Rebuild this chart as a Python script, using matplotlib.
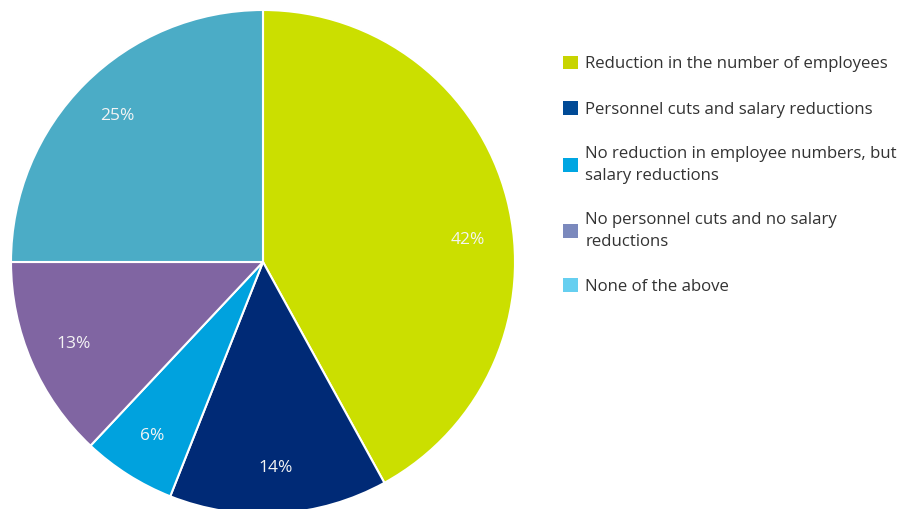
import matplotlib.pyplot as plt
from matplotlib.patches import Patch

plt.rcParams['font.family'] = ['Open Sans', 'DejaVu Sans']

# Survey answers, share in percent
categories = [
    'Reduction in the number of employees',
    'Personnel cuts and salary reductions',
    'No reduction in employee numbers, but\nsalary reductions',
    'No personnel cuts and no salary\nreductions',
    'None of the above',
]
shares = [42, 14, 6, 13, 25]
pie_colors = ['#cbdf00', '#002a76', '#00a2de', '#8065a2', '#4bacc6']
legend_colors = ['#c8d400', '#004a96', '#00a6e2', '#7b89bd', '#66cff0']

W, H = 910, 509
fig = plt.figure(figsize=(W / 100, H / 100), dpi=100)
ax = fig.add_axes([0, 0, 1, 1])

cx, cy = 263, H - 262
wedges, texts, autotexts = ax.pie(
    shares, colors=pie_colors, startangle=90, counterclock=False,
    center=(cx, cy), radius=252,
    autopct='%d%%', pctdistance=0.82,
    wedgeprops=dict(edgecolor='white', linewidth=1.5),
    textprops=dict(color='#f4f4f4', fontsize=12.5),
)
# the big slice label sits a little lower than its mid angle
autotexts[0].set_position((cx + 205, cy + 22))

ax.set_xlim(0, W)
ax.set_ylim(0, H)
ax.set_aspect('equal')
ax.axis('off')

handles = [Patch(facecolor=c, edgecolor='none') for c in legend_colors]
leg = fig.legend(handles, categories, loc='upper left', bbox_to_anchor=(0.602, 0.92),
                 frameon=False, fontsize=12.1, handlelength=0.87, handleheight=0.87,
                 handletextpad=0.45, labelspacing=1.7, labelcolor='#333333')
for t in leg.get_texts():
    t.set_linespacing(1.45)

fig.savefig('out.png', dpi=100)
